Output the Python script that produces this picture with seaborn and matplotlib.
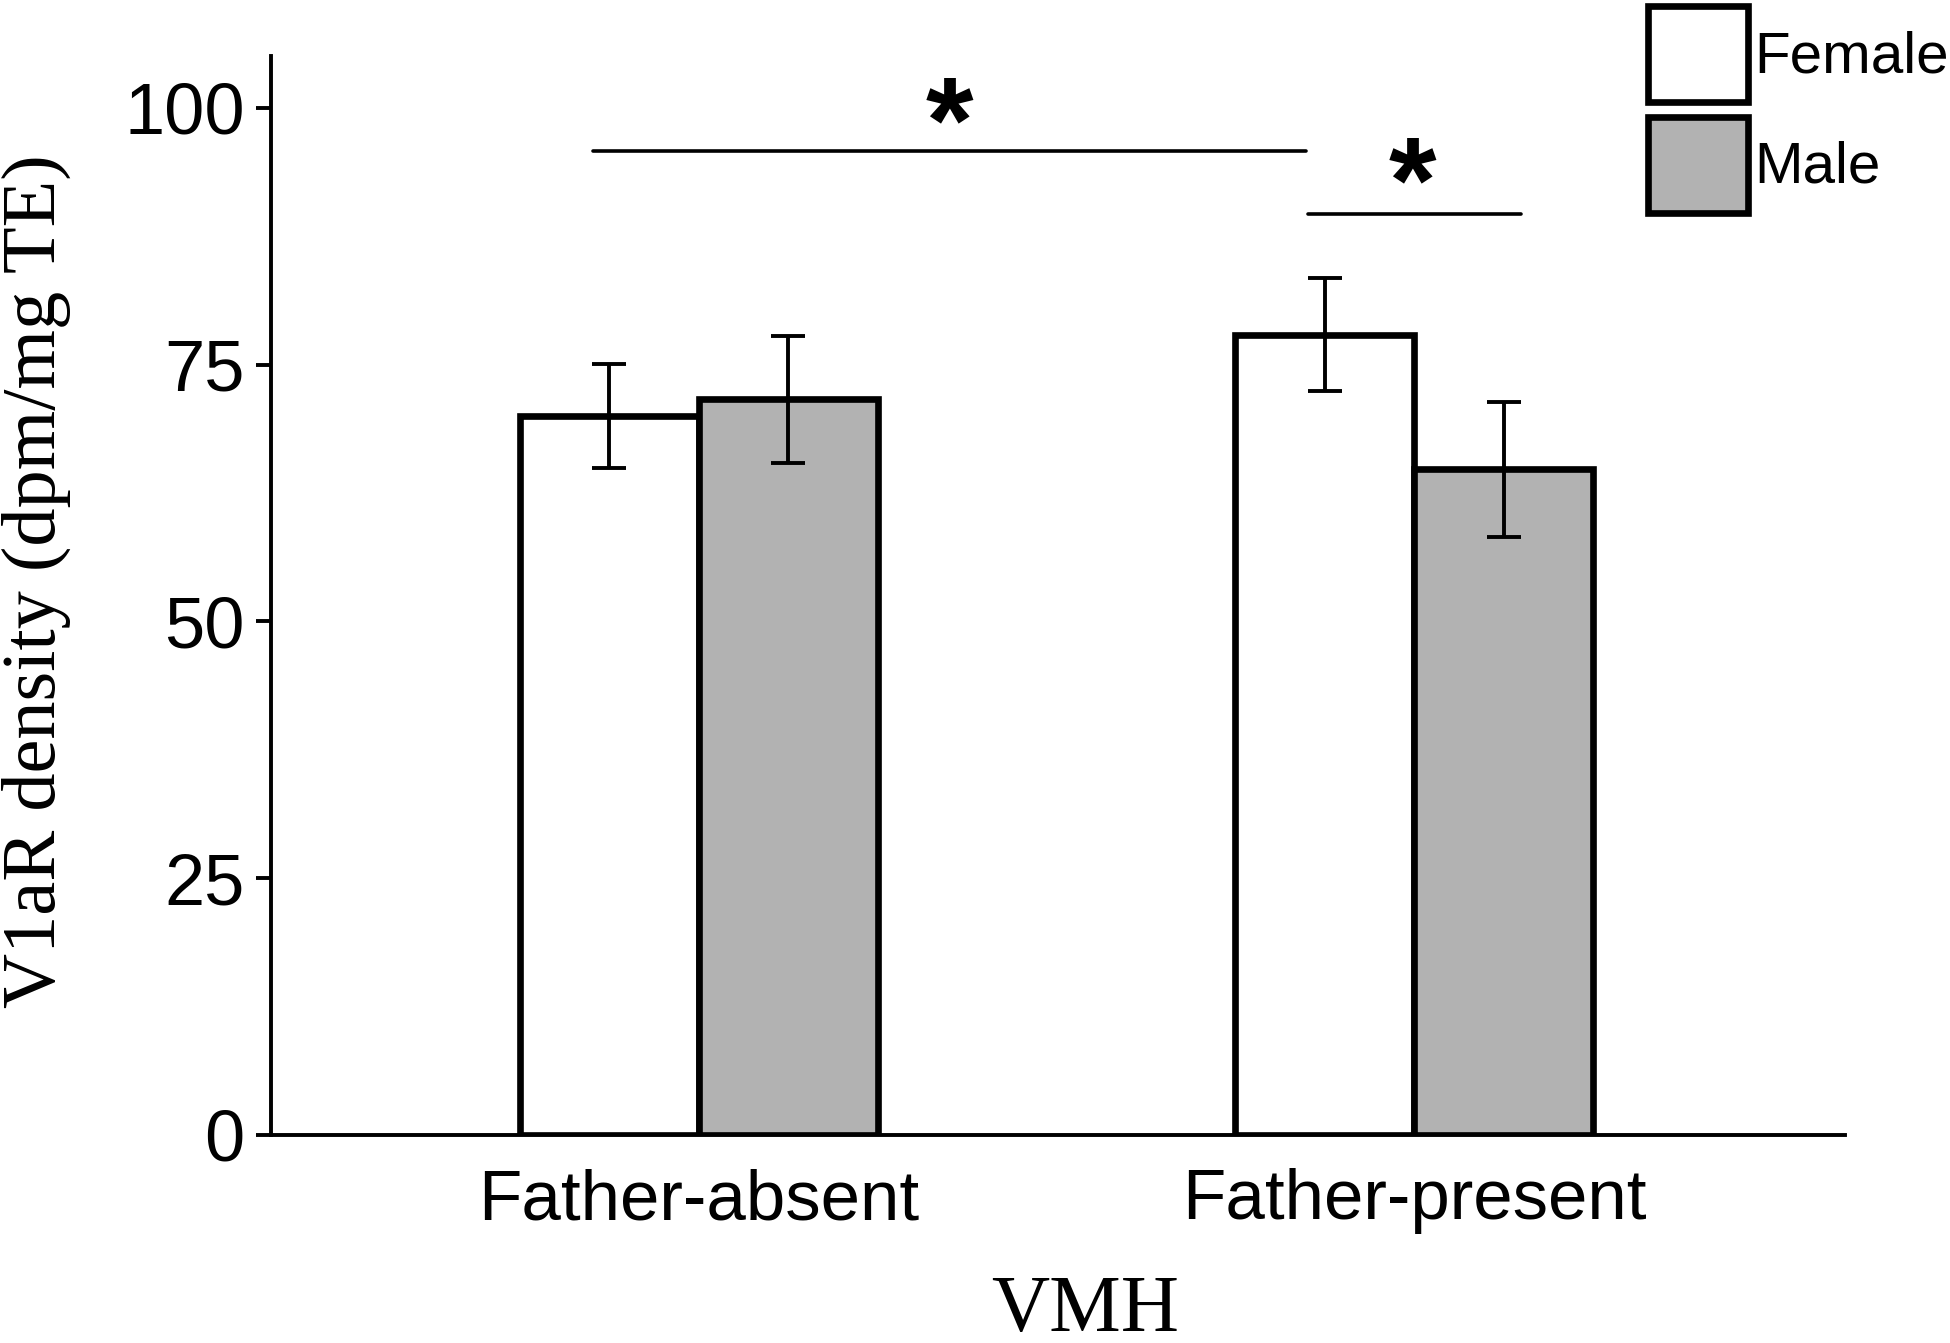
import numpy as np
import pandas as pd
import matplotlib
matplotlib.use('Agg')
import matplotlib.pyplot as plt
import seaborn as sns

# data
groups = ['Father-absent', 'Father-present']
sexes = ['Female', 'Male']
female_mean = [70.0, 77.9]
male_mean = [71.6, 64.8]
female_sem = [5.1, 5.5]
male_sem = [6.2, 6.6]

df = pd.DataFrame({
    'group': groups * 2,
    'sex': ['Female'] * 2 + ['Male'] * 2,
    'density': female_mean + male_mean,
})
sems = {'Female': female_sem, 'Male': male_sem}

sns.set_style('ticks', {'axes.edgecolor': 'black', 'text.color': 'black',
                        'axes.labelcolor': 'black', 'xtick.color': 'black',
                        'ytick.color': 'black'})
plt.rcParams['font.family'] = ['Liberation Sans', 'DejaVu Sans']

fig = plt.figure(figsize=(9.75, 6.715), dpi=200)
ax = fig.add_axes([0.139, 0.155, 0.807, 0.803])

sns.barplot(data=df, x='group', y='density', hue='sex', order=groups,
            hue_order=sexes, palette={'Female': 'white', 'Male': '#b2b2b2'},
            width=0.5, errorbar=None, edgecolor='black', linewidth=2.4,
            saturation=1, ax=ax)

# error bars on each bar
for cont, s in zip(ax.containers, sexes):
    xs = [p.get_x() + p.get_width() / 2 for p in cont.patches]
    hs = [p.get_height() for p in cont.patches]
    ax.errorbar(xs, hs, yerr=sems[s], fmt='none', ecolor='black',
                elinewidth=1.4, capsize=6, capthick=1.4, zorder=5)

ax.set_ylim(0, 105)
ax.set_xlim(-0.598, 1.602)
ax.set_yticks([0, 25, 50, 75, 100])
ax.tick_params(axis='y', labelsize=26, length=5.5, width=1.4, pad=4)
ax.tick_params(axis='x', labelsize=25.5, length=0, pad=12)
for sp in ['top', 'right']:
    ax.spines[sp].set_visible(False)
for sp in ['left', 'bottom']:
    ax.spines[sp].set_linewidth(1.4)

ax.set_ylabel('V1aR density (dpm/mg TE)', family='Liberation Serif',
              fontsize=27.5, va='center')
ax.yaxis.set_label_coords(-0.149, 0.513)
ax.set_xlabel('VMH', family='Liberation Serif', fontsize=29, va='baseline')
ax.xaxis.set_label_coords(0.517, -0.182)

# significance lines
ax.plot([-0.148, 0.849], [95.8, 95.8], color='black', lw=1.3)
ax.text(0.35, 94.8, '*', ha='center', va='baseline', fontsize=44, fontweight='bold')
ax.plot([0.852, 1.15], [89.7, 89.7], color='black', lw=1.3)
ax.text(0.998, 88.9, '*', ha='center', va='baseline', fontsize=44, fontweight='bold')

ax.legend(loc='upper left', bbox_to_anchor=(0.842, 1.0),
          bbox_transform=fig.transFigure, frameon=False, fontsize=21,
          handlelength=1.72, handleheight=2.16, handletextpad=0.1,
          labelspacing=0.25, borderpad=0.1, borderaxespad=0)

fig.savefig('out.png', dpi=200)
